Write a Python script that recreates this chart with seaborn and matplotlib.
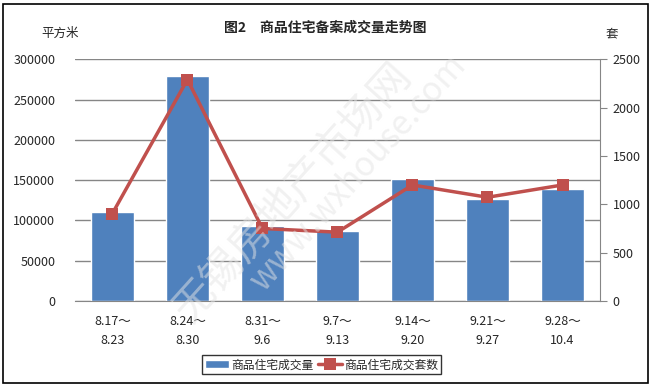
import numpy as np
import matplotlib.pyplot as plt
import seaborn as sns
import pandas as pd
from matplotlib.patches import Rectangle

# data
weeks = ['8.17～\n8.23', '8.24～\n8.30', '8.31～\n9.6', '9.7～\n9.13',
         '9.14～\n9.20', '9.21～\n9.27', '9.28～\n10.4']
area = [111000, 279300, 92500, 87500, 151500, 126800, 139000]
units = [905, 2290, 750, 712, 1200, 1073, 1200]

sns.set_style('white')
plt.rcParams['font.family'] = ['Noto Sans CJK SC', 'DejaVu Sans']

df = pd.DataFrame({'week': weeks, 'area': area, 'units': units})
df['pos'] = np.arange(len(df))

blue = '#4F81BD'
red = '#C0504D'
grid = '#868686'

fig = plt.figure(figsize=(6.51, 3.86), dpi=100)
ax = fig.add_axes([0.115, 0.2202, 0.8067, 0.6262])

sns.barplot(data=df, x='week', y='area', color=blue, saturation=1,
            width=0.58, ax=ax, label='商品住宅成交量')
ax.set_ylim(0, 300000)
ax.set_yticks(np.arange(0, 300001, 50000))
ax.set_xlim(-0.5, len(df) - 0.5)
ax.yaxis.grid(True, color=grid, lw=1)
ax.set_axisbelow(True)
for s in ['left', 'top', 'right']:
    ax.spines[s].set_visible(False)
ax.spines['bottom'].set_color(grid)
ax.tick_params(axis='y', length=0, labelsize=9, pad=14)
ax.tick_params(axis='x', length=0, labelsize=9, pad=10)
ax.set_xlabel('')
ax.set_ylabel('')
for lab in ax.get_xticklabels():
    lab.set_linespacing(1.6)

ax2 = ax.twinx()
sns.lineplot(data=df, x='pos', y='units', color=red, lw=2.5, marker='s',
             markersize=8, markeredgewidth=0, ax=ax2, label='商品住宅成交套数')
ax2.set_ylim(0, 2500)
ax2.set_yticks(np.arange(0, 2501, 500))
ax2.set_xlim(-0.5, len(df) - 0.5)
for s in ['left', 'top', 'bottom']:
    ax2.spines[s].set_visible(False)
ax2.spines['right'].set_color(grid)
ax2.tick_params(axis='y', length=5, color=grid, labelsize=9, pad=4)
ax2.set_ylabel('')
ax2.set_xlabel('')

# legend combining both series
h1, l1 = ax.get_legend_handles_labels()
h2, l2 = ax2.get_legend_handles_labels()
if ax.get_legend() is not None:
    ax.get_legend().remove()
ax2.get_legend().remove()
leg = fig.legend(h1 + h2, l1 + l2, loc='center', bbox_to_anchor=(0.494, 0.055),
                 ncol=2, fontsize=8.5, frameon=True, fancybox=False,
                 handlelength=2.0, columnspacing=0.4, handletextpad=0.2,
                 borderpad=0.25)
leg.get_frame().set_edgecolor('black')
leg.get_frame().set_linewidth(1)

fig.text(0.5, 0.928, '图2　商品住宅备案成交量走势图', ha='center', va='center',
         fontsize=10, fontweight='bold')
fig.text(0.092, 0.913, '平方米', ha='center', va='center', fontsize=9)
fig.text(0.94, 0.913, '套', ha='center', va='center', fontsize=9)

# faint watermark
fig.text(0.45, 0.5, '无锡房地产市场网', rotation=48, ha='center', va='center',
         fontsize=30, color='#e4e4e4', alpha=0.5, zorder=10)
fig.text(0.55, 0.55, 'www.wxhouse.com', rotation=48, ha='center', va='center',
         fontsize=24, color='#e4e4e4', alpha=0.5, zorder=10)

fig.patches.append(Rectangle((0.005, 0.008), 0.99, 0.982, transform=fig.transFigure,
                             fill=False, edgecolor='black', lw=1.2))

fig.savefig('out.png', dpi=100)
